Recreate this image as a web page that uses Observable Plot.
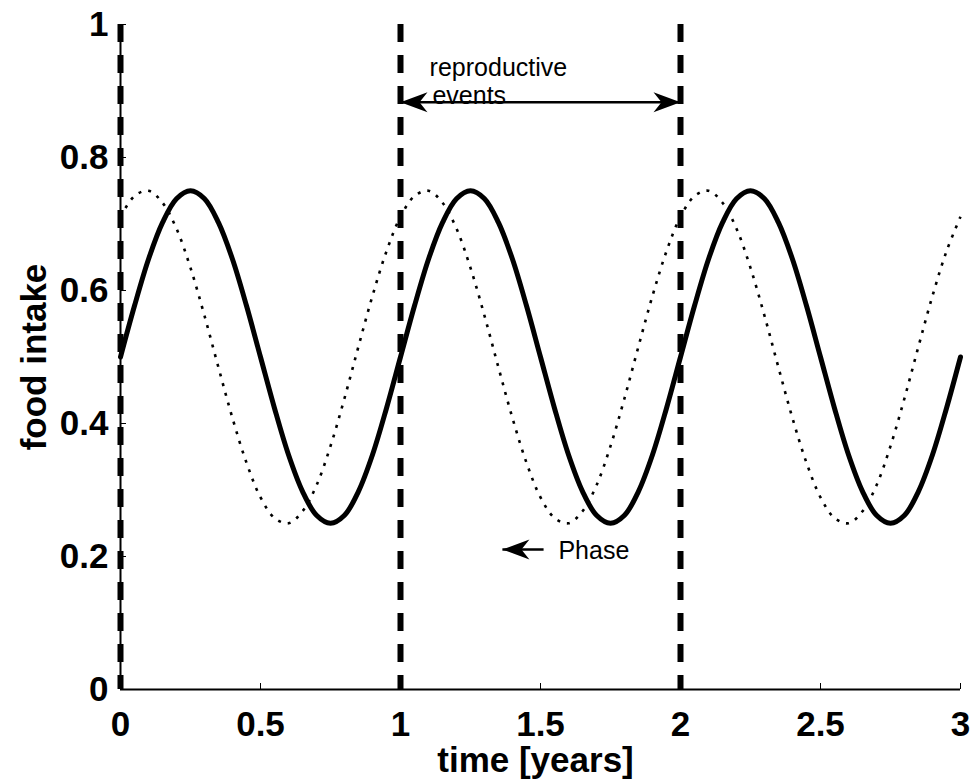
<!DOCTYPE html>
<html>
<head>
<meta charset="utf-8">
<script src="https://cdn.jsdelivr.net/npm/d3@7"></script>
<script src="https://cdn.jsdelivr.net/npm/@observablehq/plot@0.6"></script>
<style>
  html, body { margin: 0; padding: 0; background: #fff; }
  #chart { width: 976px; height: 784px; }
</style>
</head>
<body>
<div id="chart"></div>
<script>
// ---- data ----
const time = [
  0, 0.05, 0.1, 0.15, 0.2, 0.25, 0.3, 0.35, 0.4, 0.45,
  0.5, 0.55, 0.6, 0.65, 0.7, 0.75, 0.8, 0.85, 0.9, 0.95,
  1, 1.05, 1.1, 1.15, 1.2, 1.25, 1.3, 1.35, 1.4, 1.45,
  1.5, 1.55, 1.6, 1.65, 1.7, 1.75, 1.8, 1.85, 1.9, 1.95,
  2, 2.05, 2.1, 2.15, 2.2, 2.25, 2.3, 2.35, 2.4, 2.45,
  2.5, 2.55, 2.6, 2.65, 2.7, 2.75, 2.8, 2.85, 2.9, 2.95,
  3
];
// solid curve: food intake
const intakeSolid = [
  0.5, 0.577, 0.647, 0.702, 0.738, 0.75, 0.738, 0.702, 0.647, 0.577,
  0.5, 0.423, 0.353, 0.298, 0.262, 0.25, 0.262, 0.298, 0.353, 0.423,
  0.5, 0.577, 0.647, 0.702, 0.738, 0.75, 0.738, 0.702, 0.647, 0.577,
  0.5, 0.423, 0.353, 0.298, 0.262, 0.25, 0.262, 0.298, 0.353, 0.423,
  0.5, 0.577, 0.647, 0.702, 0.738, 0.75, 0.738, 0.702, 0.647, 0.577,
  0.5, 0.423, 0.353, 0.298, 0.262, 0.25, 0.262, 0.298, 0.353, 0.423,
  0.5
];
// dotted curve: phase-shifted food intake
const intakeDotted = [
  0.711, 0.742, 0.75, 0.732, 0.693, 0.634, 0.562, 0.484, 0.408, 0.341,
  0.289, 0.258, 0.25, 0.268, 0.307, 0.366, 0.438, 0.516, 0.592, 0.659,
  0.711, 0.742, 0.75, 0.732, 0.693, 0.634, 0.562, 0.484, 0.408, 0.341,
  0.289, 0.258, 0.25, 0.268, 0.307, 0.366, 0.438, 0.516, 0.592, 0.659,
  0.711, 0.742, 0.75, 0.732, 0.693, 0.634, 0.562, 0.484, 0.408, 0.341,
  0.289, 0.258, 0.25, 0.268, 0.307, 0.366, 0.438, 0.516, 0.592, 0.659,
  0.711
];
const eventTimes = [0, 1, 2];
const xTicks = [0, 0.5, 1, 1.5, 2, 2.5, 3];
const yTicks = [0, 0.2, 0.4, 0.6, 0.8, 1];
const xLabel = "time [years]";
const yLabel = "food intake";

// annotation: "reproductive events" double arrow between events 1 and 2
const spanArrowLeft = 1;
const spanArrowRight = 2;
const spanArrowY = 0.883;
// annotation: "Phase" arrow (tail -> tip)
const phaseArrowFrom = 1.511;
const phaseArrowTo = 1.364;
const phaseArrowY = 0.2105;
const noteTexts = ["reproductive", "events", "Phase"];
const noteX = [1.104, 1.114, 1.564];
const noteY = [0.935, 0.893, 0.209];

// ---- build tables ----
const solidRows = time.map((t, i) => ({t, v: intakeSolid[i]}));
const dottedRows = time.map((t, i) => ({t, v: intakeDotted[i]}));
const shafts = [
  {x1: spanArrowLeft, x2: spanArrowRight, y: spanArrowY},
  {x1: phaseArrowTo, x2: phaseArrowFrom, y: phaseArrowY}
];
// arrow heads: tip position and direction (0 = pointing left, 180 = pointing right)
const heads = [
  {x: spanArrowLeft, y: spanArrowY, dir: 0},
  {x: spanArrowRight, y: spanArrowY, dir: 180},
  {x: phaseArrowTo, y: phaseArrowY, dir: 0}
];
const notes = noteTexts.map((s, i) => ({s, x: noteX[i], y: noteY[i]}));

// filled, swept-back arrow head glyph with its tip at the origin, pointing left
const arrowHead = {
  draw(context) {
    context.moveTo(0, 0);
    context.lineTo(27, -10);
    context.lineTo(19, 0);
    context.lineTo(27, 10);
    context.closePath();
  }
};

const font = "'Liberation Sans', Arial, Helvetica, sans-serif";

const chart = Plot.plot({
  width: 976,
  height: 784,
  marginLeft: 120,
  marginRight: 16,
  marginTop: 24,
  marginBottom: 95,
  style: {background: "#fff", color: "#000", fontFamily: font, overflow: "visible"},
  x: {domain: [0, 3], label: null},
  y: {domain: [0, 1], label: null},
  marks: [
    // curves
    Plot.line(dottedRows, {x: "t", y: "v", curve: "catmull-rom", stroke: "#000", strokeWidth: 2.6, strokeDasharray: "3 7", strokeLinecap: "butt"}),
    Plot.line(solidRows, {x: "t", y: "v", curve: "catmull-rom", stroke: "#000", strokeWidth: 5}),
    // reproductive events (dashed vertical lines)
    Plot.ruleX(eventTimes, {x: d => d, stroke: "#000", strokeWidth: 6, strokeDasharray: "18 13"}),
    // axes lines
    Plot.ruleX([0], {stroke: "#000", strokeWidth: 2}),
    Plot.ruleY([0], {stroke: "#000", strokeWidth: 2}),
    // axes ticks (inward) and labels
    Plot.axisX(xTicks, {anchor: "bottom", tickSize: 6, dy: -6, tickPadding: 22, fontSize: 35, fontWeight: "bold", tickFormat: d => String(d), label: null, stroke: "#000", fill: "#000"}),
    Plot.axisY(yTicks, {anchor: "left", tickSize: 6, dx: 6, tickPadding: 12, fontSize: 35, fontWeight: "bold", tickFormat: d => String(d), label: null, stroke: "#000", fill: "#000"}),
    Plot.text([xLabel], {frameAnchor: "bottom", textAnchor: "middle", lineAnchor: "middle", dx: -5, dy: 71, fontSize: 35, fontWeight: "bold", fill: "#000"}),
    Plot.text([yLabel], {frameAnchor: "left", textAnchor: "middle", lineAnchor: "middle", rotate: -90, dx: -86, fontSize: 35, fontWeight: "bold", fill: "#000"}),
    // annotations
    Plot.link(shafts, {x1: "x1", x2: "x2", y1: "y", y2: "y", stroke: "#000", strokeWidth: 2.5}),
    Plot.dot(heads, {x: "x", y: "y", rotate: "dir", symbol: arrowHead, fill: "#000", stroke: "none", r: 10}),
    Plot.text(notes, {x: "x", y: "y", text: "s", textAnchor: "start", fontSize: 25, fill: "#000"})
  ]
});
document.getElementById("chart").appendChild(chart);
</script>
</body>
</html>
